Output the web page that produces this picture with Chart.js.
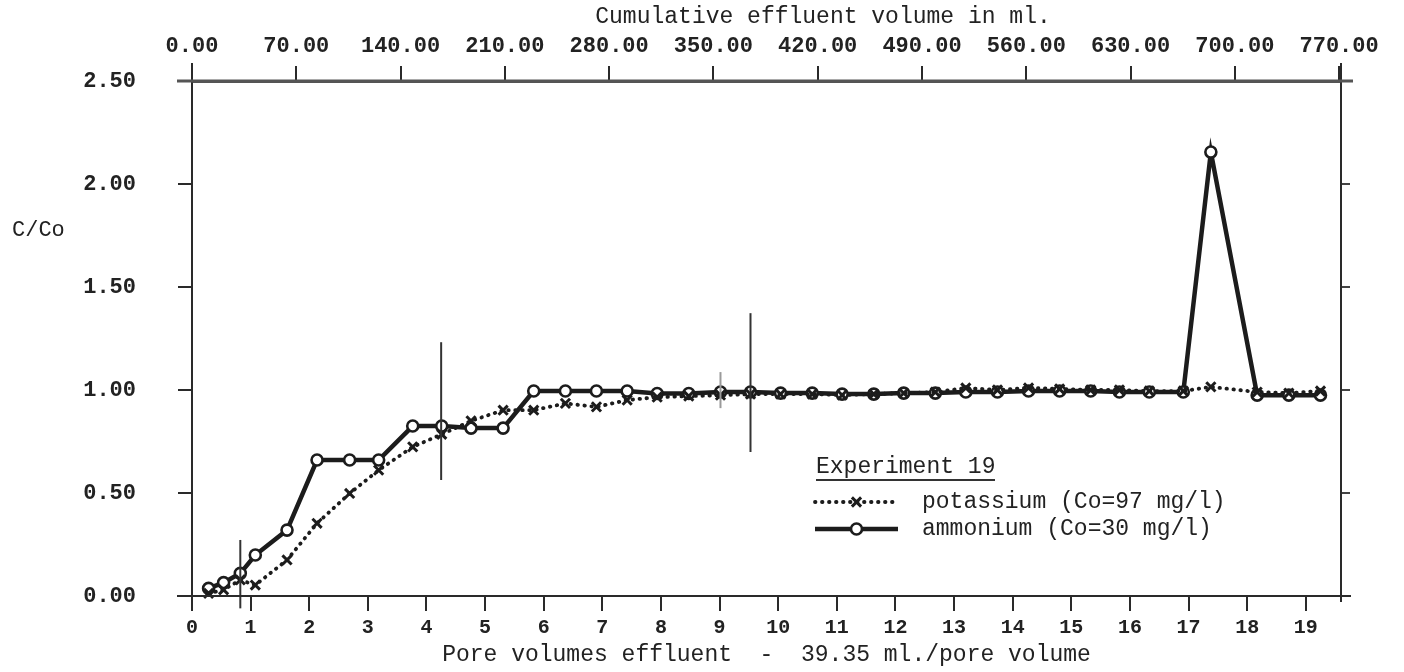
<!DOCTYPE html>
<html>
<head>
<meta charset="utf-8">
<script src="https://cdn.jsdelivr.net/npm/chart.js@4/dist/chart.umd.min.js"></script>
<style>
  html, body { margin: 0; padding: 0; background: #ffffff; }
  canvas { display: block; }
</style>
</head>
<body>
<canvas id="chart" width="1404" height="672"></canvas>
<script>
// Sample positions in pore volumes of effluent
const poreVolumes = [0.283, 0.539, 0.824, 1.08, 1.621, 2.133, 2.689, 3.184, 3.765, 4.26,
  4.76, 5.307, 5.829, 6.37, 6.899, 7.423, 7.935, 8.474, 9.015, 9.527,
  10.04, 10.58, 11.09, 11.63, 12.14, 12.68, 13.2, 13.74, 14.27, 14.8,
  15.33, 15.82, 16.33, 16.91, 17.38, 18.17, 18.71, 19.25];

// Relative concentration C/Co
const potassium = [0.013, 0.03, 0.078, 0.053, 0.175, 0.353, 0.498, 0.611, 0.724, 0.785,
  0.85, 0.902, 0.902, 0.935, 0.918, 0.951, 0.965, 0.97, 0.975, 0.98,
  0.98, 0.98, 0.975, 0.98, 0.985, 0.99, 1.01, 1.0, 1.01, 1.005,
  1.0, 1.0, 0.995, 0.995, 1.015, 0.99, 0.985, 0.995];

const ammonium = [0.037, 0.065, 0.11, 0.199, 0.32, 0.66, 0.66, 0.66, 0.825, 0.825,
  0.815, 0.815, 0.995, 0.995, 0.995, 0.995, 0.983, 0.983, 0.99, 0.99,
  0.985, 0.985, 0.98, 0.98, 0.985, 0.985, 0.99, 0.99, 0.995, 0.995,
  0.995, 0.99, 0.99, 0.99, 2.155, 0.975, 0.975, 0.975];

// Vertical range bars: position (pore volumes), low and high C/Co
const barPositions = [0.824, 4.25, 9.015, 9.527];
const barLows = [-0.06, 0.563, 0.912, 0.699];
const barHighs = [0.272, 1.232, 1.087, 1.373];

// Axis ticks
const poreTicks = [0, 1, 2, 3, 4, 5, 6, 7, 8, 9, 10, 11, 12, 13, 14, 15, 16, 17, 18, 19];
const volumeTicks = [0, 70, 140, 210, 280, 350, 420, 490, 560, 630, 700, 770];
const ratioTicks = [0, 0.5, 1.0, 1.5, 2.0, 2.5];

const mlPerPoreVolume = 39.35;
const poreMax = 19.6;

const MONO = '"Liberation Mono", "DejaVu Sans Mono", monospace';
const INK = '#1c1c1c';

const potassiumStyle = {
  borderColor: INK, borderWidth: 3.8, borderDash: [0.5, 6.5], borderCapStyle: 'round',
  pointStyle: 'crossRot', pointRadius: 6.5, pointBorderWidth: 3,
  pointBorderColor: INK, pointBackgroundColor: INK
};
const ammoniumStyle = {
  borderColor: INK, borderWidth: 4.5, borderDash: [],
  pointStyle: 'circle', pointRadius: 5.5, pointBorderWidth: 2.6,
  pointBorderColor: INK, pointBackgroundColor: '#ffffff'
};

function fixTicks(values) {
  return (scale) => { scale.ticks = values.map(v => ({ value: v })); };
}

const decorPlugin = {
  id: 'decor',
  afterDatasetsDraw(chart) {
    const { ctx, chartArea: a, scales } = chart;
    const xs = scales.x, ys = scales.y;
    ctx.save();

    // vertical range bars
    ctx.lineCap = 'butt';
    barPositions.forEach((p, i) => {
      const x = xs.getPixelForValue(p);
      ctx.beginPath();
      ctx.strokeStyle = i === 2 ? '#9a9a9a' : '#333333';
      ctx.lineWidth = 2;
      ctx.moveTo(x, ys.getPixelForValue(barHighs[i]));
      ctx.lineTo(x, ys.getPixelForValue(barLows[i]));
      ctx.stroke();
    });

    // frame lines running past the corners
    ctx.strokeStyle = '#2a2a2a';
    ctx.lineWidth = 2;
    ctx.beginPath();
    ctx.moveTo(a.left, a.top - 18); ctx.lineTo(a.left, a.bottom + 12);
    ctx.moveTo(a.right, a.top - 18); ctx.lineTo(a.right, a.bottom + 6);
    ctx.moveTo(a.left - 15, a.bottom); ctx.lineTo(a.right + 10, a.bottom);
    ctx.stroke();
    ctx.strokeStyle = '#555555';
    ctx.lineWidth = 3;
    ctx.beginPath();
    ctx.moveTo(a.left - 15, a.top); ctx.lineTo(a.right + 12, a.top);
    ctx.stroke();

    // axis captions
    ctx.fillStyle = '#222222';
    ctx.textBaseline = 'middle';
    ctx.font = '22px ' + MONO;
    ctx.textAlign = 'left';
    ctx.fillText('C/Co', 12, 230);
    ctx.font = '23px ' + MONO;
    ctx.textAlign = 'center';
    ctx.fillText('Cumulative effluent volume in ml.', 823, 17);

    // legend
    const lx0 = 815, lx1 = 898, tx = 922;
    ctx.textAlign = 'left';
    ctx.font = '23px ' + MONO;
    ctx.fillText('Experiment 19', 816, 467);
    ctx.lineWidth = 2.2;
    ctx.strokeStyle = '#333333';
    ctx.beginPath();
    ctx.moveTo(816, 480); ctx.lineTo(995, 480);
    ctx.stroke();

    const entries = [
      { style: potassiumStyle, y: 502, label: 'potassium (Co=97 mg/l)' },
      { style: ammoniumStyle, y: 529, label: 'ammonium (Co=30 mg/l)' }
    ];
    entries.forEach(e => {
      const s = e.style;
      ctx.save();
      ctx.strokeStyle = s.borderColor;
      ctx.lineWidth = s.borderWidth;
      ctx.lineCap = s.borderCapStyle || 'butt';
      ctx.setLineDash(s.borderDash);
      ctx.beginPath();
      ctx.moveTo(lx0, e.y); ctx.lineTo(lx1, e.y);
      ctx.stroke();
      ctx.restore();
      ctx.save();
      ctx.strokeStyle = s.pointBorderColor;
      ctx.fillStyle = s.pointBackgroundColor;
      ctx.lineWidth = s.pointBorderWidth;
      Chart.helpers.drawPoint(ctx, { pointStyle: s.pointStyle, radius: s.pointRadius, rotation: 0, borderWidth: s.pointBorderWidth },
        (lx0 + lx1) / 2, e.y);
      ctx.restore();
      ctx.fillStyle = '#222222';
      ctx.font = '23px ' + MONO;
      ctx.textBaseline = 'middle';
      ctx.fillText(e.label, tx, e.y);
    });
    ctx.restore();
  }
};

new Chart(document.getElementById('chart'), {
  type: 'scatter',
  data: {
    datasets: [
      Object.assign({
        label: 'potassium (Co=97 mg/l)',
        data: poreVolumes.map((p, i) => ({ x: p, y: potassium[i] })),
        showLine: true, tension: 0, clip: false, xAxisID: 'x', yAxisID: 'y'
      }, potassiumStyle),
      Object.assign({
        label: 'ammonium (Co=30 mg/l)',
        data: poreVolumes.map((p, i) => ({ x: p, y: ammonium[i] })),
        showLine: true, tension: 0, clip: false, xAxisID: 'x', yAxisID: 'y'
      }, ammoniumStyle)
    ]
  },
  options: {
    responsive: false,
    animation: false,
    devicePixelRatio: 1,
    layout: { padding: 0 },
    plugins: { legend: { display: false }, tooltip: { enabled: false } },
    scales: {
      x: {
        type: 'linear', position: 'bottom', min: 0, max: poreMax,
        afterBuildTicks: fixTicks(poreTicks),
        afterFit: (s) => { s.height = 76; },
        grid: { drawOnChartArea: false, drawTicks: true, tickLength: 15, color: '#2a2a2a', lineWidth: 2 },
        border: { display: true, color: '#2a2a2a', width: 2 },
        ticks: { padding: 5, color: '#222222', font: { family: MONO, size: 20, weight: 'bold' }, maxRotation: 0, autoSkip: false,
          callback: (v) => String(v) },
        title: { display: true, text: 'Pore volumes effluent  -  39.35 ml./pore volume', color: '#222222',
          font: { family: MONO, size: 23 }, padding: { top: 0, bottom: 3 } }
      },
      x2: {
        type: 'linear', position: 'top', min: 0, max: poreMax * mlPerPoreVolume,
        afterBuildTicks: fixTicks(volumeTicks),
        afterFit: (s) => { s.height = 81; },
        grid: { drawOnChartArea: false, drawTicks: true, tickLength: 15, color: '#2a2a2a', lineWidth: 2 },
        border: { display: true, color: '#555555', width: 3 },
        ticks: { padding: 6, color: '#222222', font: { family: MONO, size: 22, weight: 'bold' }, maxRotation: 0, autoSkip: false,
          callback: (v) => Number(v).toFixed(2) }
      },
      y: {
        type: 'linear', position: 'left', min: 0, max: 2.5,
        afterBuildTicks: fixTicks(ratioTicks),
        afterFit: (s) => { s.width = 192; },
        grid: { drawOnChartArea: false, drawTicks: true, tickLength: 14, color: '#2a2a2a', lineWidth: 2 },
        border: { display: true, color: '#2a2a2a', width: 2 },
        ticks: { padding: 42, color: '#222222', font: { family: MONO, size: 22, weight: 'bold' },
          callback: (v) => Number(v).toFixed(2) }
      },
      y2: {
        type: 'linear', position: 'right', min: 0, max: 2.5,
        afterBuildTicks: fixTicks(ratioTicks),
        afterFit: (s) => { s.width = 63; },
        grid: { drawOnChartArea: false, drawTicks: true, tickLength: 9, color: '#444444', lineWidth: 2 },
        border: { display: true, color: '#2a2a2a', width: 2 },
        ticks: { display: false }
      }
    }
  },
  plugins: [decorPlugin]
});
</script>
</body>
</html>
